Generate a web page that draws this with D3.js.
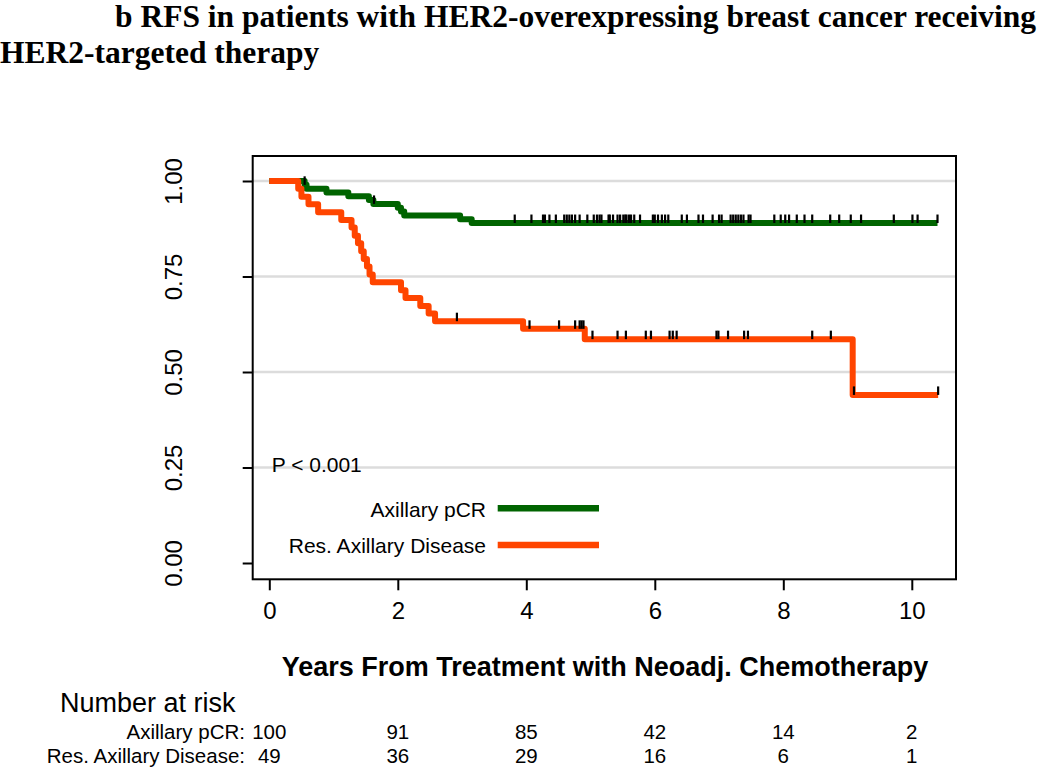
<!DOCTYPE html>
<html><head><meta charset="utf-8">
<script src="https://cdn.jsdelivr.net/npm/d3@7"></script>
<style>body{margin:0;background:#fff}svg{display:block}</style>
</head><body><svg id="c" width="1050" height="767"></svg>
<script>
// ---------- data ----------
const titleLines = ["b RFS in patients with HER2-overexpressing breast cancer receiving", "HER2-targeted therapy"];
const groups = ["Axillary pCR", "Res. Axillary Disease"];
const groupColors = ["#006400", "#FF4500"];

const pcrTimes = [0, 0.55, 0.58, 0.89, 1.23, 1.55, 1.62, 2.00, 2.05, 2.10, 2.97, 3.15];
const pcrSurv  = [1, 0.99, 0.98, 0.97, 0.96, 0.95, 0.94, 0.93, 0.92, 0.91, 0.90, 0.89];
const pcrEnd = 10.40;
const pcrCensor = [0.55, 1.63, 3.82, 4.08, 4.26, 4.29, 4.36, 4.46, 4.59, 4.63, 4.67, 4.71, 4.76, 4.83, 4.95,
  5.05, 5.10, 5.14, 5.17, 5.28, 5.30, 5.35, 5.42, 5.46, 5.51, 5.54, 5.56, 5.60, 5.63, 5.68, 5.77, 5.97,
  6.00, 6.05, 6.11, 6.16, 6.21, 6.42, 6.50, 6.68, 6.75, 6.90, 7.00, 7.04, 7.18, 7.22, 7.26, 7.30, 7.34,
  7.38, 7.46, 7.49, 7.86, 7.96, 8.03, 8.09, 8.21, 8.33, 8.45, 8.73, 8.87, 9.05, 9.21, 9.72, 10.01, 10.09, 10.40];

const resTimes = [0, 0.45, 0.50, 0.61, 0.76, 1.12, 1.28, 1.33, 1.38, 1.43, 1.47, 1.52, 1.56, 1.61,
  2.05, 2.12, 2.35, 2.48, 2.58, 3.95, 4.91, 9.08];
const resSurv  = [1, 0.980, 0.959, 0.939, 0.918, 0.898, 0.878, 0.857, 0.837, 0.816, 0.796, 0.776, 0.755, 0.735,
  0.714, 0.694, 0.673, 0.653, 0.633, 0.613, 0.586, 0.440];
const resEnd = 10.41;
const resCensor = [2.92, 4.05, 4.51, 4.76, 4.83, 4.86, 4.89, 5.03, 5.42, 5.55, 5.86, 5.94, 6.23, 6.28, 6.34,
  6.96, 6.99, 7.14, 7.39, 7.45, 8.45, 8.74, 9.10, 10.41];

const xTickValues = [0, 2, 4, 6, 8, 10];
const yTickValues = [0, 0.25, 0.5, 0.75, 1];
const gridValues = [0.25, 0.5, 0.75, 1];
const riskTimes = [0, 2, 4, 6, 8, 10];
const riskPcr = [100, 91, 85, 42, 14, 2];
const riskRes = [49, 36, 29, 16, 6, 1];
const pText = "P < 0.001";
const xLabel = "Years From Treatment with Neoadj. Chemotherapy";
const riskTitle = "Number at risk";

// ---------- layout ----------
const box = {l: 252.7, r: 956, t: 156, b: 579.3};
const x = d3.scaleLinear().domain([0, 10]).range([269.3, 911.8]);
const y = d3.scaleLinear().domain([0, 1]).range([563, 181]);
const sans = "'Liberation Sans', Arial, Helvetica, sans-serif";
const serif = "'Liberation Serif', 'Times New Roman', serif";

const svg = d3.select("#c");
svg.append("rect").attr("width", 1050).attr("height", 767).attr("fill", "#fff");

// title
svg.append("g").selectAll("text").data(titleLines).join("text")
  .attr("x", (d, i) => i === 0 ? 115 : 0)
  .attr("y", (d, i) => i === 0 ? 27 : 63)
  .attr("font-family", serif).attr("font-weight", "bold").attr("font-size", 31.5)
  .attr("fill", "#000").text(d => d);

// gridlines
svg.append("g").selectAll("line").data(gridValues).join("line")
  .attr("x1", box.l).attr("x2", box.r)
  .attr("y1", d => y(d)).attr("y2", d => y(d))
  .attr("stroke", "#dcdcdc").attr("stroke-width", 2.5);

// curves
const series = [
  {times: pcrTimes, surv: pcrSurv, end: pcrEnd, censor: pcrCensor, color: groupColors[0]},
  {times: resTimes, surv: resSurv, end: resEnd, censor: resCensor, color: groupColors[1]}
];
const line = d3.line().x(d => x(d[0])).y(d => y(d[1])).curve(d3.curveStepAfter);
function levelAt(s, t) {
  let v = s.surv[0];
  for (let i = 0; i < s.times.length; i++) if (s.times[i] <= t) v = s.surv[i];
  return v;
}
series.forEach(s => {
  const pts = s.times.map((t, i) => [t, s.surv[i]]);
  pts.push([s.end, s.surv[s.surv.length - 1]]);
  svg.append("path").datum(pts).attr("d", line)
    .attr("fill", "none").attr("stroke", s.color).attr("stroke-width", 6)
    .attr("stroke-linejoin", "round").attr("stroke-linecap", "butt");
  svg.append("g").selectAll("line").data(s.censor).join("line")
    .attr("x1", d => x(d)).attr("x2", d => x(d))
    .attr("y1", d => y(levelAt(s, d)) - 8.5).attr("y2", d => y(levelAt(s, d)))
    .attr("stroke", "#000").attr("stroke-width", 2.2);
});

// box
svg.append("rect").attr("x", box.l).attr("y", box.t)
  .attr("width", box.r - box.l).attr("height", box.b - box.t)
  .attr("fill", "none").attr("stroke", "#000").attr("stroke-width", 2);

// y axis
const yAxis = svg.append("g").attr("transform", `translate(${box.l},0)`)
  .call(d3.axisLeft(y).tickValues(yTickValues).tickSize(10).tickFormat(d3.format(".2f")));
yAxis.select(".domain").remove();
yAxis.selectAll(".tick line").attr("stroke", "#000").attr("stroke-width", 2);
yAxis.selectAll(".tick text")
  .attr("transform", "rotate(-90)").attr("x", 0).attr("y", -71).attr("dy", 0)
  .attr("text-anchor", "middle").attr("font-family", sans).attr("font-size", 24).attr("fill", "#000");

// x axis
const xAxis = svg.append("g").attr("transform", `translate(0,${box.b})`)
  .call(d3.axisBottom(x).tickValues(xTickValues).tickSize(11).tickFormat(d3.format("d")));
xAxis.select(".domain").remove();
xAxis.selectAll(".tick line").attr("stroke", "#000").attr("stroke-width", 2);
xAxis.selectAll(".tick text").attr("y", 40).attr("dy", 0)
  .attr("font-family", sans).attr("font-size", 24).attr("fill", "#000");

// x label
svg.append("text").attr("x", 605).attr("y", 676).attr("text-anchor", "middle")
  .attr("font-family", sans).attr("font-weight", "bold").attr("font-size", 27).text(xLabel);

// p value
svg.append("text").attr("x", 271.7).attr("y", 472)
  .attr("font-family", sans).attr("font-size", 21).text(pText);

// legend
const leg = svg.append("g");
groups.forEach((g, i) => {
  const ly = [508.3, 545][i];
  leg.append("text").attr("x", 486).attr("y", ly + 8.3).attr("text-anchor", "end")
    .attr("font-family", sans).attr("font-size", 21).text(g);
  leg.append("line").attr("x1", 497.7).attr("x2", 599).attr("y1", ly).attr("y2", ly)
    .attr("stroke", groupColors[i]).attr("stroke-width", 6.5);
});

// risk table
svg.append("text").attr("x", 60).attr("y", 711.7)
  .attr("font-family", sans).attr("font-size", 27).text(riskTitle);
[riskPcr, riskRes].forEach((row, i) => {
  const ry = [739, 762.5][i];
  svg.append("text").attr("x", 245).attr("y", ry).attr("text-anchor", "end")
    .attr("font-family", sans).attr("font-size", 20.5).text(groups[i] + ":");
  svg.append("g").selectAll("text").data(row).join("text")
    .attr("x", (d, j) => x(riskTimes[j])).attr("y", ry).attr("text-anchor", "middle")
    .attr("font-family", sans).attr("font-size", 20.5).text(d => d);
});
</script></body></html>
